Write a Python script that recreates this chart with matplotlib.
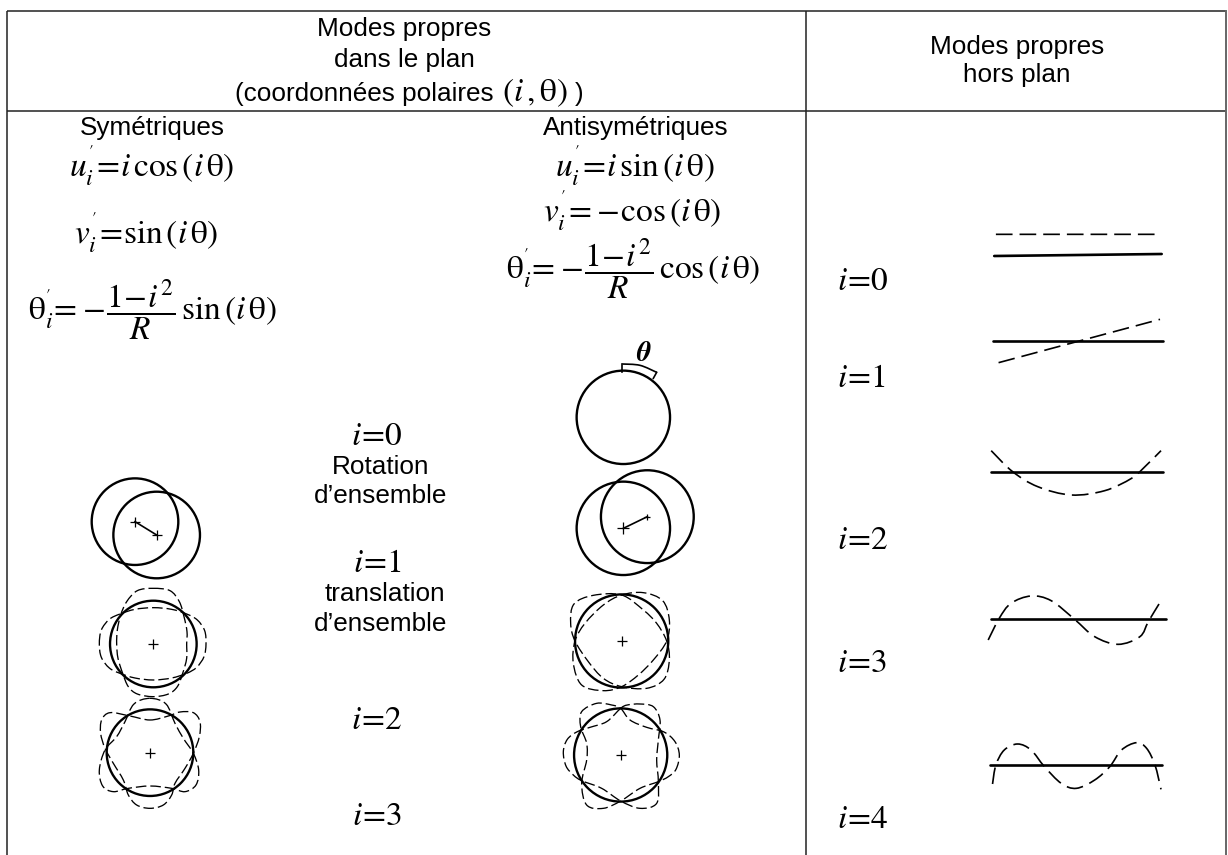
import numpy as np
import matplotlib
matplotlib.use("Agg")
import matplotlib.pyplot as plt
from matplotlib.path import Path
from matplotlib.patches import PathPatch, Circle

plt.rcParams['font.family'] = ['Liberation Sans', 'DejaVu Sans']
plt.rcParams['mathtext.fontset'] = 'stix'

# Values (pixel coordinates inside three crops)
SYM_ORIGIN = (60, 340)
ANTI_ORIGIN = (540, 340)
OUT_A = (810, 200)
OUT_B = (810, 530)
OUT_SX = 1248 / 418

sym_i1_circles = [(225, 545), (290, 585)]
sym_i2_center = (280, 912)
sym_i2_a = [(118,912),(124,870),(148,838),(180,822),(225,808),(280,803),(335,808),(380,822),(412,840),
            (434,872),(438,912),(432,950),(410,982),(380,1000),(335,1014),(280,1020),(225,1014),(180,1000),
            (148,984),(124,952)]
sym_i2_b = [(280,745),(330,752),(358,785),(372,830),(381,875),(380,912),(380,955),(368,1000),(352,1040),
            (325,1062),(280,1070),(232,1062),(205,1040),(188,1000),(174,955),(170,912),(172,870),(182,825),
            (200,785),(232,752)]
sym_i3_center = (270, 1238)
sym_i3_a = [(270,1140),(325,1128),(360,1116),(400,1118),(420,1145),(418,1190),(400,1240),(375,1285),(345,1330),
            (335,1365),(310,1395),(270,1405),(230,1395),(205,1365),(190,1320),(160,1270),(135,1225),
            (122,1180),(125,1140),(150,1118),(210,1128)]
sym_i3_b = [(270,1075),(318,1092),(345,1150),(370,1195),(400,1240),(416,1290),(408,1335),(375,1355),
            (335,1345),(270,1338),(205,1345),(160,1355),(128,1338),(118,1290),(135,1230),(170,1190),
            (195,1145),(222,1092)]

anti_i0_center = (250, 232)
anti_i1_circles = [(250, 565), (322, 530)]
anti_i2_center = (245, 903)
anti_i2_a = [(245,765),(310,810),(350,850),(380,903),(388,960),(372,1018),(320,1045),(245,1040),
             (190,1015),(145,965),(105,903),(92,850),(102,792),(160,766)]
anti_i2_b = [(245,765),(310,758),(368,782),(388,840),(380,903),(340,960),(295,1005),(245,1040),
             (190,1052),(125,1035),(100,970),(105,903),(135,850),(190,795)]
anti_i3_center = (242, 1245)
anti_i3_a = [(242,1105),(270,1140),(320,1162),(372,1176),(405,1205),(418,1245),(408,1288),(385,1310),(355,1325),
             (300,1345),(242,1383),(190,1405),(140,1395),(125,1330),(140,1260),(140,1210),(122,1160),(125,1115),
             (170,1090),(215,1095)]
anti_i3_b = [(242,1105),(200,1145),(150,1162),(112,1175),(82,1198),(70,1235),(78,1278),(100,1305),(125,1322),
             (185,1345),(242,1383),(300,1405),(350,1390),(355,1325),(350,1260),(355,1200),(360,1140),(340,1100),
             (300,1092),(262,1095)]
theta_bracket = [(247,95),(247,72),(300,76),(350,97),(340,115)]

out_i0_solid = [(550,168),(1050,162)]
out_i0_dash = [(555,103),(1048,103)]
out_i1_solid = [(545,423),(1055,423)]
out_i1_dash = [(563,488),(1045,358)]
out_i2_solid = [(541,817),(1055,817)]
out_i2_dash = [(541,752),(605,815),(680,860),(780,885),(880,872),(960,835),(1000,800),(1048,752)]
out_i3_solid = [(541,268),(1063,268)]
out_i3_dash = [(532,330),(565,265),(600,220),(660,198),(720,212),(790,268),(850,320),(920,343),
               (985,320),(1010,275),(1042,222)]
out_i4_solid = [(538,706),(1052,706)]
out_i4_dash = [(545,762),(555,705),(580,660),(620,642),(660,660),(700,710),(750,760),(795,775),
               (850,750),(895,710),(930,660),(975,638),(1005,655),(1030,705),(1048,778)]

header_left = ["Modes propres", "dans le plan"]
header_polar = ["(coordonnées polaires", r"$\left(i\,,\mathrm{\theta}\right)$", ")"]
header_right = ["Modes propres", "hors plan"]
mid_labels = [r"$i\!=\!0$", "Rotation", "d’ensemble", r"$i\!=\!1$", "translation", "d’ensemble",
              r"$i\!=\!2$", r"$i\!=\!3$"]
right_labels = [r"$i\!=\!0$", r"$i\!=\!1$", r"$i\!=\!2$", r"$i\!=\!3$", r"$i\!=\!4$"]

fig = plt.figure(figsize=(12.28, 8.55), dpi=100)
ax = fig.add_axes([0, 0, 1, 1])
ax.set_xlim(0, 1228)
ax.set_ylim(855, 0)
ax.axis('off')


def conv(pts, origin, sx=3.0, sy=3.0):
    p = np.asarray(pts, float)
    return np.column_stack([origin[0] + p[:, 0] / sx, origin[1] + p[:, 1] / sy])


def smooth(p, closed):
    n = len(p)
    verts, codes = [p[0]], [Path.MOVETO]
    m = n if closed else n - 1
    for i in range(m):
        if closed:
            a, b, c, d = p[(i - 1) % n], p[i], p[(i + 1) % n], p[(i + 2) % n]
        else:
            a, b, c, d = p[max(i - 1, 0)], p[i], p[i + 1], p[min(i + 2, n - 1)]
        verts += [b + (c - a) / 6, c - (d - b) / 6, c]
        codes += [Path.CURVE4] * 3
    return Path(np.array(verts), codes)


RING_DASH = (0, (8, 3.0))
OUT_DASH = (0, (10, 4.2))


def dashed(pts, origin):
    ax.add_patch(PathPatch(smooth(conv(pts, origin), True), fill=False, ec='black',
                           lw=0.95, ls=RING_DASH, capstyle='butt'))


def circle(c, origin, r):
    xy = conv([c], origin)[0]
    ax.add_patch(Circle(xy, r, fill=False, ec='black', lw=1.7))
    return xy


def plus(xy, s=6.5):
    ax.plot([xy[0]], [xy[1]], marker='+', ms=s, mew=0.9, color='black')


# table rules
rule = dict(color='#222222', lw=1.1, solid_capstyle='butt')
ax.plot([7, 1226], [11, 11], **rule)
ax.plot([7, 1226], [111, 111], **rule)
ax.plot([7, 7], [11, 855], **rule)
ax.plot([806, 806], [11, 855], **rule)
ax.plot([1226, 1226], [11, 855], color='#666666', lw=1.4)

# headers
FS = 18.8
for s, x, y in zip(header_left, [404, 404], [29, 60]):
    ax.text(x, y, s, ha='center', va='center', fontsize=FS, color='black')
ax.text(494, 94, header_polar[0], ha='right', va='center', fontsize=FS)
ax.text(502, 93, header_polar[1], ha='left', va='center', fontsize=24)
ax.text(575, 94, header_polar[2], ha='left', va='center', fontsize=FS)
for s, y in zip(header_right, [47, 75]):
    ax.text(1017, y, s, ha='center', va='center', fontsize=FS, color='black')
ax.text(152, 128, "Symétriques", ha='center', va='center', fontsize=FS)
ax.text(636, 128, "Antisymétriques", ha='center', va='center', fontsize=FS)

# formulas
MS = 24
TH = r"\mathrm{\theta}"
ax.text(152, 166, r"$u_i^{'}\!=\!i\,\cos\left(i\," + TH + r"\right)$", ha='center', va='center', fontsize=MS)
ax.text(146, 233, r"$v_i^{'}\!=\!\sin\left(i\," + TH + r"\right)$", ha='center', va='center', fontsize=MS)
ax.text(152, 310, r"$" + TH + r"_i^{'}\!=\!-\!\dfrac{1\!-\!i^2}{R}\,\sin\left(i\," + TH + r"\right)$",
        ha='center', va='center', fontsize=MS)
ax.text(635, 166, r"$u_i^{'}\!=\!i\,\sin\left(i\," + TH + r"\right)$", ha='center', va='center', fontsize=MS)
ax.text(632, 211, r"$v_i^{'}\!=\!-\!\cos\left(i\," + TH + r"\right)$", ha='center', va='center', fontsize=MS)
ax.text(633, 269, r"$" + TH + r"_i^{'}\!=\!-\!\dfrac{1\!-\!i^2}{R}\,\cos\left(i\," + TH + r"\right)$",
        ha='center', va='center', fontsize=MS)

# middle labels
for s, x, y in zip(mid_labels, [377, 381, 381, 377, 385, 381, 377, 377],
                   [436, 467, 496, 563, 594, 624, 720, 816]):
    ax.text(x, y, s, ha='center', va='center', fontsize=MS if '$' in s else FS)

# right labels
for s, y in zip(right_labels, [281, 378, 540, 663, 819]):
    ax.text(837, y, s, ha='left', va='center', fontsize=MS)

# symmetric modes
c1 = circle(sym_i1_circles[0], SYM_ORIGIN, 43.3)
c2 = circle(sym_i1_circles[1], SYM_ORIGIN, 43.3)
ax.plot([c1[0], c2[0]], [c1[1], c2[1]], color='black', lw=1.2)
plus(c1); plus(c2)
for c, a, b in [(sym_i2_center, sym_i2_a, sym_i2_b), (sym_i3_center, sym_i3_a, sym_i3_b)]:
    plus(circle(c, SYM_ORIGIN, 43.3))
    dashed(a, SYM_ORIGIN)
    dashed(b, SYM_ORIGIN)

# antisymmetric modes
circle(anti_i0_center, ANTI_ORIGIN, 46.7)
br = conv(theta_bracket, ANTI_ORIGIN)
ax.add_patch(PathPatch(smooth(br[1:4], False), fill=False, ec='black', lw=1.2))
ax.plot(br[:2, 0], br[:2, 1], color='black', lw=1.2)
ax.plot(br[3:, 0], br[3:, 1], color='black', lw=1.2)
ax.text(644, 354, r"$\boldsymbol{\theta}$", ha='center', va='center', fontsize=20)
c1 = circle(anti_i1_circles[0], ANTI_ORIGIN, 46.7)
c2 = circle(anti_i1_circles[1], ANTI_ORIGIN, 46.4)
ax.plot([c1[0], c2[0]], [c1[1], c2[1]], color='black', lw=1.2)
plus(c1, 8); plus(c2, 5)
for c, a, b in [(anti_i2_center, anti_i2_a, anti_i2_b), (anti_i3_center, anti_i3_a, anti_i3_b)]:
    plus(circle(c, ANTI_ORIGIN, 46.6))
    dashed(a, ANTI_ORIGIN)
    dashed(b, ANTI_ORIGIN)

# out-of-plane modes
for pts, origin in [(out_i0_solid, OUT_A), (out_i1_solid, OUT_A), (out_i2_solid, OUT_A),
                    (out_i3_solid, OUT_B), (out_i4_solid, OUT_B)]:
    p = conv(pts, origin, OUT_SX)
    ax.plot(p[:, 0], p[:, 1], color='black', lw=1.9, solid_capstyle='round')
for pts, origin in [(out_i0_dash, OUT_A), (out_i1_dash, OUT_A), (out_i2_dash, OUT_A),
                    (out_i3_dash, OUT_B), (out_i4_dash, OUT_B)]:
    ax.add_patch(PathPatch(smooth(conv(pts, origin, OUT_SX), False), fill=False, ec='black',
                           lw=1.2, ls=OUT_DASH, capstyle='butt'))

fig.savefig("out.png", dpi=100)
